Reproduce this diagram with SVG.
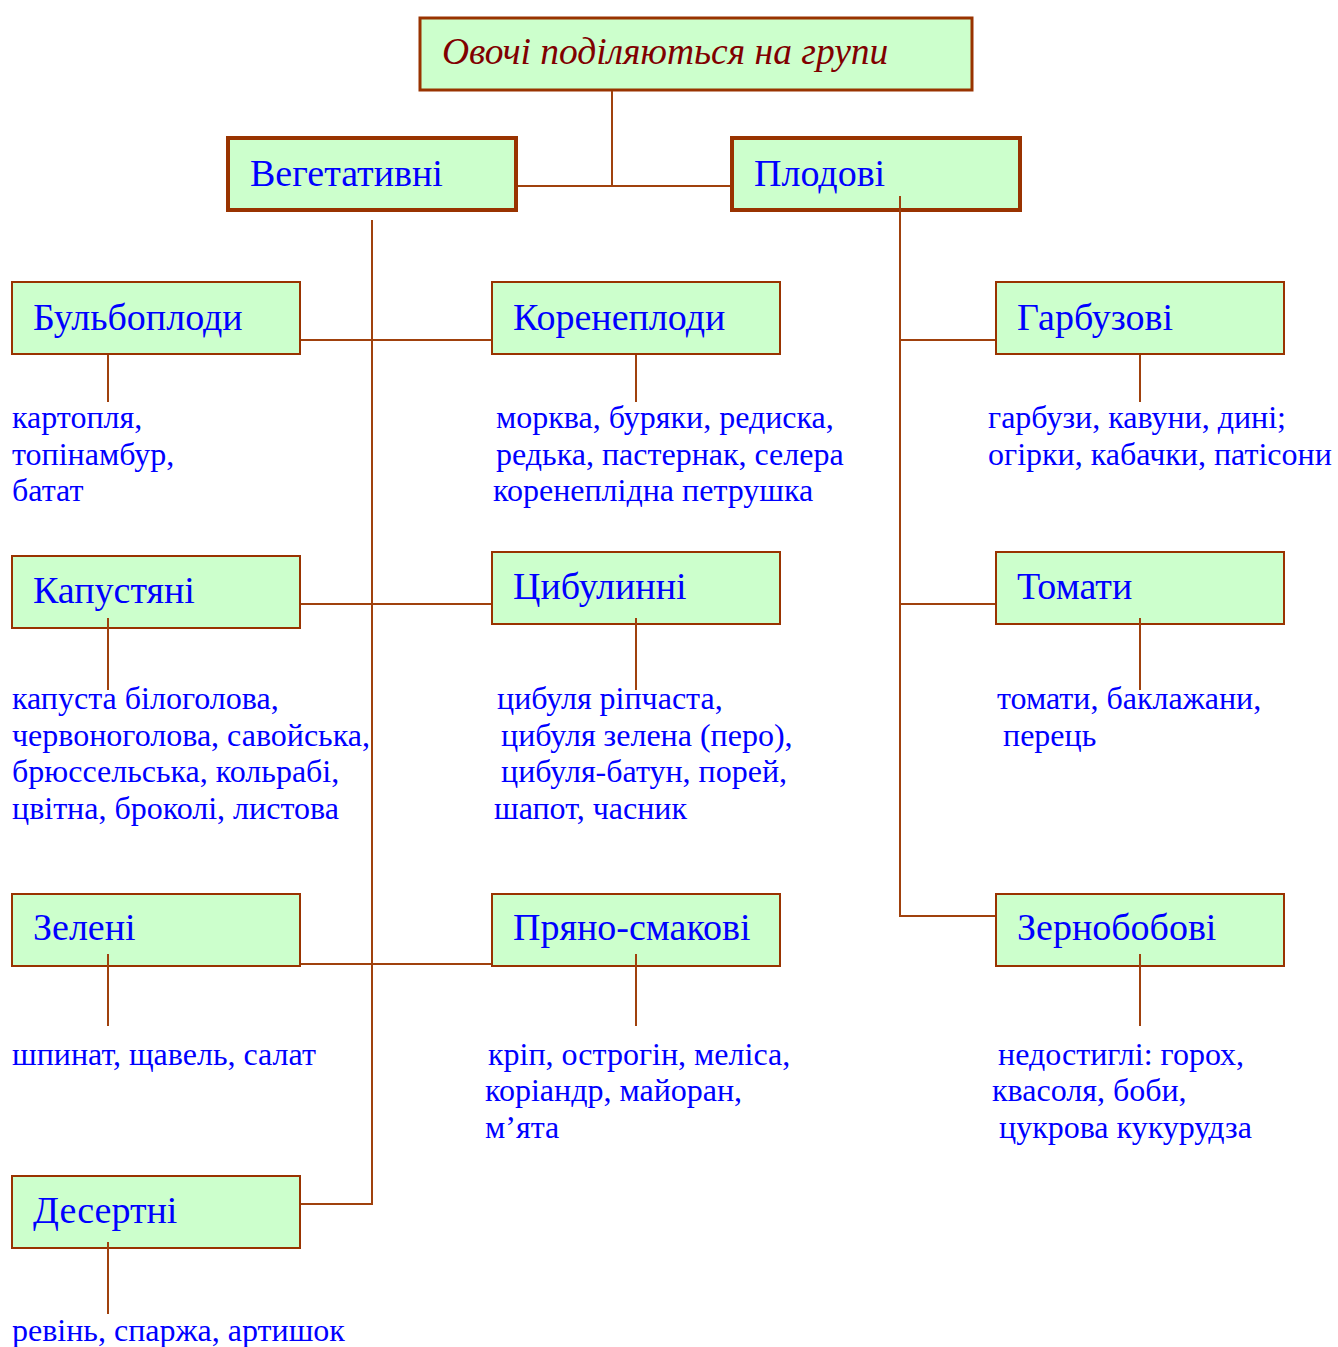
<svg xmlns="http://www.w3.org/2000/svg" width="1338" height="1347" viewBox="0 0 1338 1347">
<style>
.box{fill:#CCFFCC;stroke:#993300;stroke-width:2}
.b2{stroke-width:4}
.b1{stroke-width:3}
.lbl{font-family:"Liberation Serif","Times New Roman",serif;font-size:38px;fill:#0000FF}
.ttl{font-family:"Liberation Serif","Times New Roman",serif;font-size:37.5px;font-style:italic;fill:#800000}
.txt{font-family:"Liberation Serif","Times New Roman",serif;font-size:32px;fill:#0000FF}
.ln{fill:none;stroke:#A0410D;stroke-width:2}
</style>
<rect width="1338" height="1347" fill="#FFFFFF"/>
<g id="title"><rect class="box b1" x="420" y="18" width="552" height="72"/><text class="ttl" x="442" y="64">Овочі поділяються на групи</text></g>
<g id="vegetative"><rect class="box b2" x="228" y="138" width="288" height="72"/><text class="lbl" x="250" y="186">Вегетативні</text></g>
<g id="fruit"><rect class="box b2" x="732" y="138" width="288" height="72"/><text class="lbl" x="754" y="186">Плодові</text></g>
<g id="tubers"><rect class="box" x="12" y="282" width="288" height="72"/><text class="lbl" x="33" y="330">Бульбоплоди</text>
<text class="txt"><tspan x="12" y="428">картопля,</tspan><tspan x="12" y="465">топінамбур,</tspan><tspan x="12" y="501">батат</tspan></text></g>
<g id="roots"><rect class="box" x="492" y="282" width="288" height="72"/><text class="lbl" x="513" y="330">Коренеплоди</text>
<text class="txt"><tspan x="496" y="428">морква, буряки, редиска,</tspan><tspan x="496" y="465">редька, пастернак, селера</tspan><tspan x="493" y="501">коренеплідна петрушка</tspan></text></g>
<g id="gourds"><rect class="box" x="996" y="282" width="288" height="72"/><text class="lbl" x="1017" y="330">Гарбузові</text>
<text class="txt"><tspan x="988" y="428">гарбузи, кавуни, дині;</tspan><tspan x="988" y="465">огірки, кабачки, патісони</tspan></text></g>
<g id="cabbage"><rect class="box" x="12" y="556" width="288" height="72"/><text class="lbl" x="33" y="603">Капустяні</text>
<text class="txt"><tspan x="12" y="709">капуста білоголова,</tspan><tspan x="12" y="746">червоноголова, савойська,</tspan><tspan x="12" y="782">брюссельська, кольрабі,</tspan><tspan x="12" y="819">цвітна, броколі, листова</tspan></text></g>
<g id="onions"><rect class="box" x="492" y="552" width="288" height="72"/><text class="lbl" x="513" y="599">Цибулинні</text>
<text class="txt"><tspan x="497" y="709">цибуля ріпчаста,</tspan><tspan x="501" y="746">цибуля зелена (перо),</tspan><tspan x="501" y="782">цибуля-батун, порей,</tspan><tspan x="494" y="819">шапот, часник</tspan></text></g>
<g id="tomatoes"><rect class="box" x="996" y="552" width="288" height="72"/><text class="lbl" x="1017" y="599">Томати</text>
<text class="txt"><tspan x="997" y="709">томати, баклажани,</tspan><tspan x="1003" y="746">перець</tspan></text></g>
<g id="greens"><rect class="box" x="12" y="894" width="288" height="72"/><text class="lbl" x="33" y="940">Зелені</text>
<text class="txt" x="12" y="1065">шпинат, щавель, салат</text></g>
<g id="spicy"><rect class="box" x="492" y="894" width="288" height="72"/><text class="lbl" x="513" y="940">Пряно-смакові</text>
<text class="txt"><tspan x="488" y="1065">кріп, острогін, меліса,</tspan><tspan x="485" y="1101">коріандр, майоран,</tspan><tspan x="485" y="1138">м’ята</tspan></text></g>
<g id="legumes"><rect class="box" x="996" y="894" width="288" height="72"/><text class="lbl" x="1017" y="940">Зернобобові</text>
<text class="txt"><tspan x="998" y="1065">недостиглі: горох,</tspan><tspan x="992" y="1101">квасоля, боби,</tspan><tspan x="999" y="1138">цукрова кукурудза</tspan></text></g>
<g id="dessert"><rect class="box" x="12" y="1176" width="288" height="72"/><text class="lbl" x="33" y="1223">Десертні</text>
<text class="txt" x="12" y="1341">ревінь, спаржа, артишок</text></g>
<g id="connectors">
<path class="ln" d="M612 91V186M518 186H730"/>
<path class="ln" d="M372 220V1204H301M301 340H491M301 604H491M301 964H491"/>
<path class="ln" d="M900 196V916H995M900 340H995M900 604H995"/>
<path class="ln" d="M108 355V402M636 355V402M1140 355V402"/>
<path class="ln" d="M108 618V690M636 618V690M1140 618V690"/>
<path class="ln" d="M108 954V1026M636 954V1026M1140 954V1026"/>
<path class="ln" d="M108 1242V1314"/>
</g>
</svg>
